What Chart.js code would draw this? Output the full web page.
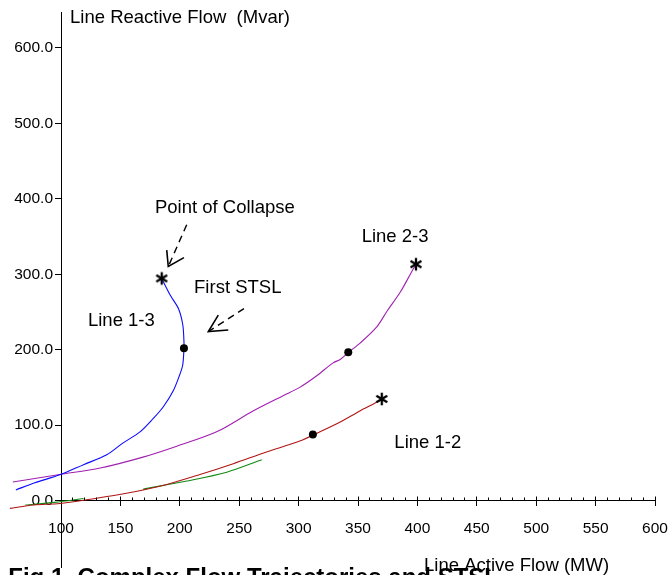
<!DOCTYPE html>
<html>
<head>
<meta charset="utf-8">
<script src="https://cdn.jsdelivr.net/npm/chart.js@4.4.1/dist/chart.umd.min.js"></script>
<style>
html,body{margin:0;padding:0;background:#fff;overflow:hidden}
#wrap{width:671px;height:575px;position:relative}
</style>
</head>
<body>
<div id="wrap"><canvas id="c" width="671" height="575"></canvas></div>
<script>
// ---------- data (MW, Mvar) ----------
const line13X = [62, 78, 99, 119, 138.5, 152, 166.5, 177.5, 186, 194.5, 200, 202.5, 203.5, 203.5, 202.5, 199, 192, 185.5];
const line13Y = [14, 23.5, 34, 47.5, 60.5, 76, 91, 108.5, 124, 145.5, 167, 180, 202, 211, 233, 254, 272, 292];

const line23X = [59.5, 99, 133, 169, 197.5, 231, 262, 287, 301, 315, 329, 335, 342, 352, 366, 374, 385.5, 396.5, 399];
const line23Y = [24.5, 34.5, 43, 57.5, 72, 91, 119, 139, 150, 165, 182.5, 187, 196.5, 209, 230.5, 250, 276, 307, 313];

const line12X = [57, 77, 99, 124.5, 155, 189, 217, 245, 273, 301, 318, 335, 352, 368.5, 370];
const line12Y = [-10.5, -6, -4, 1.7, 9.5, 21.3, 34.4, 48.8, 64.4, 78.8, 91, 104, 119, 132.5, 135];

const approxX = [70, 95, 119, null, 169, 206, 239.5, 269];
const approxY = [-6, -2.5, 2.6, null, 15, 25.8, 37.5, 54];

const stslX = [203.5, 341.8, 312];
const stslY = [202, 196.5, 87.6];

const collapseX = [184.8, 398.8, 370];
const collapseY = [294.5, 313.3, 134.6];

const xTicks = [100, 150, 200, 250, 300, 350, 400, 450, 500, 550, 600];
const yTicks = [0, 100, 200, 300, 400, 500, 600];

const seriesLabels = ['Line 1-3', 'Line 2-3', 'Line 1-2'];
const seriesLabelX = [122.7, 353.1, 380.6];
const seriesLabelY = [231.8, 342.5, 69.3];

const X_MIN = 100, X_MAX = 600, Y_MIN = -88.2, Y_MAX = 647.7;

const FONT = "'Liberation Sans', Arial, Helvetica, sans-serif";

function pts(xs, ys) { return xs.map((x, i) => ({x: x, y: ys[i]})); }

function makeStar() {
  const c = document.createElement('canvas');
  c.width = 16; c.height = 16;
  const g = c.getContext('2d');
  g.strokeStyle = '#000'; g.lineWidth = 2.3;
  const cx = 8, cy = 8, r = 6.3;
  for (let k = 0; k < 3; k++) {
    const a = Math.PI / 2 + k * Math.PI / 3;
    g.beginPath();
    g.moveTo(cx + r * Math.cos(a), cy + r * Math.sin(a));
    g.lineTo(cx - r * Math.cos(a), cy - r * Math.sin(a));
    g.stroke();
  }
  return c;
}

const annotPlugin = {
  id: 'annot',
  afterDraw(chart) {
    const ctx = chart.ctx;
    const xs = chart.scales.x, ys = chart.scales.y;
    const X = v => xs.getPixelForValue(v), Y = v => ys.getPixelForValue(v);
    ctx.save();
    // upward tick marks on the x axis (minor every 10, major every 50)
    ctx.strokeStyle = '#000'; ctx.lineWidth = 1;
    const y0 = Math.round(Y(0) - 0.5) + 0.5;
    for (let v = xTicks[0]; v <= xTicks[xTicks.length - 1]; v += 10) {
      const px = Math.round(X(v) - 0.5) + 0.5;
      const len = (v % 50 === 0) ? 4 : 3;
      ctx.beginPath(); ctx.moveTo(px, y0); ctx.lineTo(px, y0 - len); ctx.stroke();
    }
    // texts
    ctx.fillStyle = '#000';
    ctx.textAlign = 'left';
    ctx.textBaseline = 'alphabetic';
    ctx.font = '18.5px ' + FONT;
    ctx.fillText('Line Reactive Flow  (Mvar)', X(107.6), Y(633.3));
    ctx.fillText('Line Active Flow (MW)', X(405.6), Y(-93));
    seriesLabels.forEach((t, i) => ctx.fillText(t, X(seriesLabelX[i]), Y(seriesLabelY[i])));
    ctx.fillText('Point of Collapse', X(179.1), Y(380.8));
    ctx.fillText('First STSL', X(212), Y(275.4));
    ctx.font = 'bold 24px ' + FONT;
    ctx.fillText('Fig.1. Complex Flow Trajectories and STSL', X(55.6), Y(-112));
    // dashed arrows
    function arrow(sx, sy, tx, ty, w1x, w1y, w2x, w2y) {
      ctx.lineWidth = 1.4;
      ctx.setLineDash([7, 5]);
      ctx.beginPath(); ctx.moveTo(X(sx), Y(sy)); ctx.lineTo(X(tx), Y(ty)); ctx.stroke();
      ctx.setLineDash([]);
      ctx.lineWidth = 1.6;
      ctx.beginPath();
      ctx.moveTo(X(w1x), Y(w1y)); ctx.lineTo(X(tx), Y(ty)); ctx.lineTo(X(w2x), Y(w2y));
      ctx.stroke();
    }
    arrow(205.8, 365.6, 190.3, 310.2, 189, 332, 203.5, 322);
    arrow(254, 254.5, 224, 223.9, 232.4, 245.8, 240.8, 226.1);
    ctx.restore();
  }
};

const lineBase = {showLine: true, borderWidth: 1.1, pointRadius: 0, pointHoverRadius: 0, tension: 0.3, clip: false, spanGaps: false};

new Chart(document.getElementById('c'), {
  type: 'scatter',
  data: {
    datasets: [
      {label: 'Point of Collapse', data: pts(collapseX, collapseY), showLine: false, pointStyle: makeStar(), pointRadius: 7, clip: false},
      {label: 'First STSL', data: pts(stslX, stslY), showLine: false, pointStyle: 'circle', pointRadius: 4, pointBackgroundColor: '#000', pointBorderColor: '#000', pointBorderWidth: 0, clip: false},
      Object.assign({label: 'Line 1-3', data: pts(line13X, line13Y), borderColor: '#0a0aff'}, lineBase),
      Object.assign({label: 'Line 2-3', data: pts(line23X, line23Y), borderColor: '#a020b0'}, lineBase),
      Object.assign({label: 'Line 1-2', data: pts(line12X, line12Y), borderColor: '#b01515'}, lineBase),
      Object.assign({label: 'Line 1-2 approx.', data: pts(approxX, approxY), borderColor: '#128a12'}, lineBase)
    ]
  },
  options: {
    responsive: false,
    animation: false,
    devicePixelRatio: 1,
    layout: {padding: {left: 0, top: 12, right: 16, bottom: 0}},
    plugins: {legend: {display: false}, tooltip: {enabled: false}},
    scales: {
      x: {
        type: 'linear', position: {y: 0}, bounds: 'data',
        afterDataLimits: s => { s.min = X_MIN; s.max = X_MAX; },
        afterBuildTicks: s => { s.ticks = xTicks.map(v => ({value: v})); s.min = X_MIN; s.max = X_MAX; },
        afterFit: s => { s.paddingLeft = 0; s.paddingRight = 0; },
        ticks: {color: '#000', font: {family: FONT, size: 15.5}, padding: 14, autoSkip: false, maxRotation: 0, callback: v => String(v)},
        grid: {drawOnChartArea: false, drawTicks: true, tickLength: 5, color: '#000', tickColor: '#000', tickWidth: 1},
        border: {display: true, color: '#000', width: 1}
      },
      y: {
        type: 'linear', position: 'left', min: Y_MIN, max: Y_MAX,
        afterBuildTicks: s => { s.ticks = yTicks.map(v => ({value: v})); },
        afterFit: s => { s.width = 61; s.paddingTop = 0; s.paddingBottom = 0; },
        ticks: {color: '#000', font: {family: FONT, size: 15.5}, padding: 2, autoSkip: false, callback: v => Number(v).toFixed(1)},
        grid: {drawOnChartArea: false, drawTicks: true, tickLength: 6, color: '#000', tickColor: '#000', tickWidth: 1},
        border: {display: true, color: '#000', width: 1}
      }
    }
  },
  plugins: [annotPlugin]
});
</script>
</body>
</html>
